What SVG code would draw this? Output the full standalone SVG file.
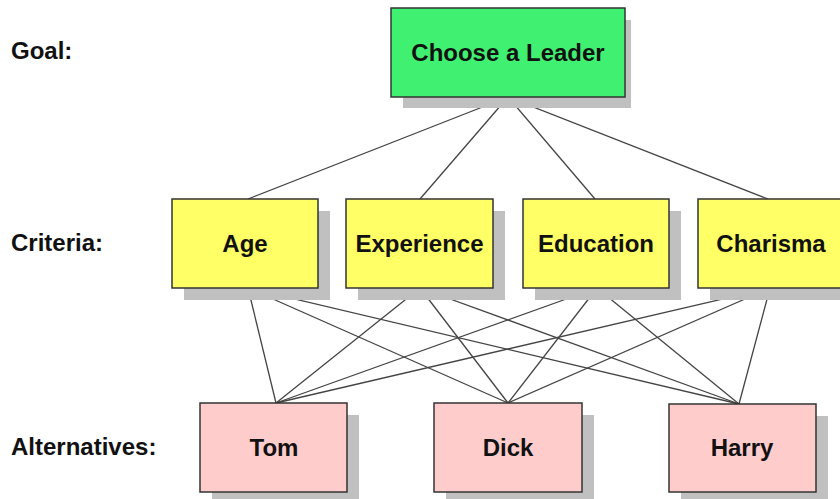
<svg xmlns="http://www.w3.org/2000/svg" width="840" height="499" viewBox="0 0 840 499">
<style>
.shadow{fill:#c0c0c0;}
.box{stroke:#333;stroke-width:1.5;}
.goal{fill:#40f070;}
.crit{fill:#ffff66;}
.alt{fill:#ffcccc;}
.t{font-family:"Liberation Sans",Arial,sans-serif;font-weight:bold;font-size:24px;fill:#111;text-anchor:middle;}
.lbl{font-family:"Liberation Sans",Arial,sans-serif;font-weight:bold;font-size:24px;fill:#111;}
#connectors line{stroke:#444;stroke-width:1.3;}
</style>
<rect width="840" height="499" fill="#fff"/>
<g id="labels">
<text class="lbl" x="11" y="59">Goal:</text>
<text class="lbl" x="11" y="251">Criteria:</text>
<text class="lbl" x="11" y="455">Alternatives:</text>
</g>
<g id="connectors">
<line x1="508" y1="97" x2="248" y2="199"/>
<line x1="508" y1="97" x2="420" y2="199"/>
<line x1="508" y1="97" x2="595" y2="199"/>
<line x1="508" y1="97" x2="768" y2="199"/>
<line x1="248" y1="288" x2="276" y2="403"/>
<line x1="248" y1="288" x2="508" y2="403"/>
<line x1="248" y1="288" x2="739" y2="404"/>
<line x1="420" y1="288" x2="276" y2="403"/>
<line x1="420" y1="288" x2="508" y2="403"/>
<line x1="420" y1="288" x2="739" y2="404"/>
<line x1="597" y1="288" x2="276" y2="403"/>
<line x1="597" y1="288" x2="508" y2="403"/>
<line x1="597" y1="288" x2="739" y2="404"/>
<line x1="770" y1="288" x2="276" y2="403"/>
<line x1="770" y1="288" x2="508" y2="403"/>
<line x1="770" y1="288" x2="739" y2="404"/>
</g>
<g id="goal">
<rect class="shadow" x="403" y="20" width="228" height="88"/>
<rect class="box goal" x="391" y="8" width="234" height="89"/>
<text class="t" x="508" y="61">Choose a Leader</text>
</g>
<g id="age">
<rect class="shadow" x="184" y="211" width="146" height="89"/>
<rect class="box crit" x="172" y="199" width="146" height="89"/>
<text class="t" x="245" y="252">Age</text>
</g>
<g id="experience">
<rect class="shadow" x="358" y="211" width="147" height="89"/>
<rect class="box crit" x="346" y="199" width="147" height="89"/>
<text class="t" x="419.5" y="252">Experience</text>
</g>
<g id="education">
<rect class="shadow" x="535" y="211" width="146" height="89"/>
<rect class="box crit" x="523" y="199" width="146" height="89"/>
<text class="t" x="596" y="252">Education</text>
</g>
<g id="charisma">
<rect class="shadow" x="710" y="211" width="146" height="89"/>
<rect class="box crit" x="698" y="199" width="146" height="89"/>
<text class="t" x="771" y="252">Charisma</text>
</g>
<g id="tom">
<rect class="shadow" x="212" y="415" width="147" height="89"/>
<rect class="box alt" x="200" y="403" width="147" height="89"/>
<text class="t" x="274" y="456">Tom</text>
</g>
<g id="dick">
<rect class="shadow" x="446" y="415" width="148" height="89"/>
<rect class="box alt" x="434" y="403" width="148" height="89"/>
<text class="t" x="508" y="456">Dick</text>
</g>
<g id="harry">
<rect class="shadow" x="681" y="416" width="147" height="88"/>
<rect class="box alt" x="669" y="404" width="147" height="88"/>
<text class="t" x="742" y="456">Harry</text>
</g>
</svg>
